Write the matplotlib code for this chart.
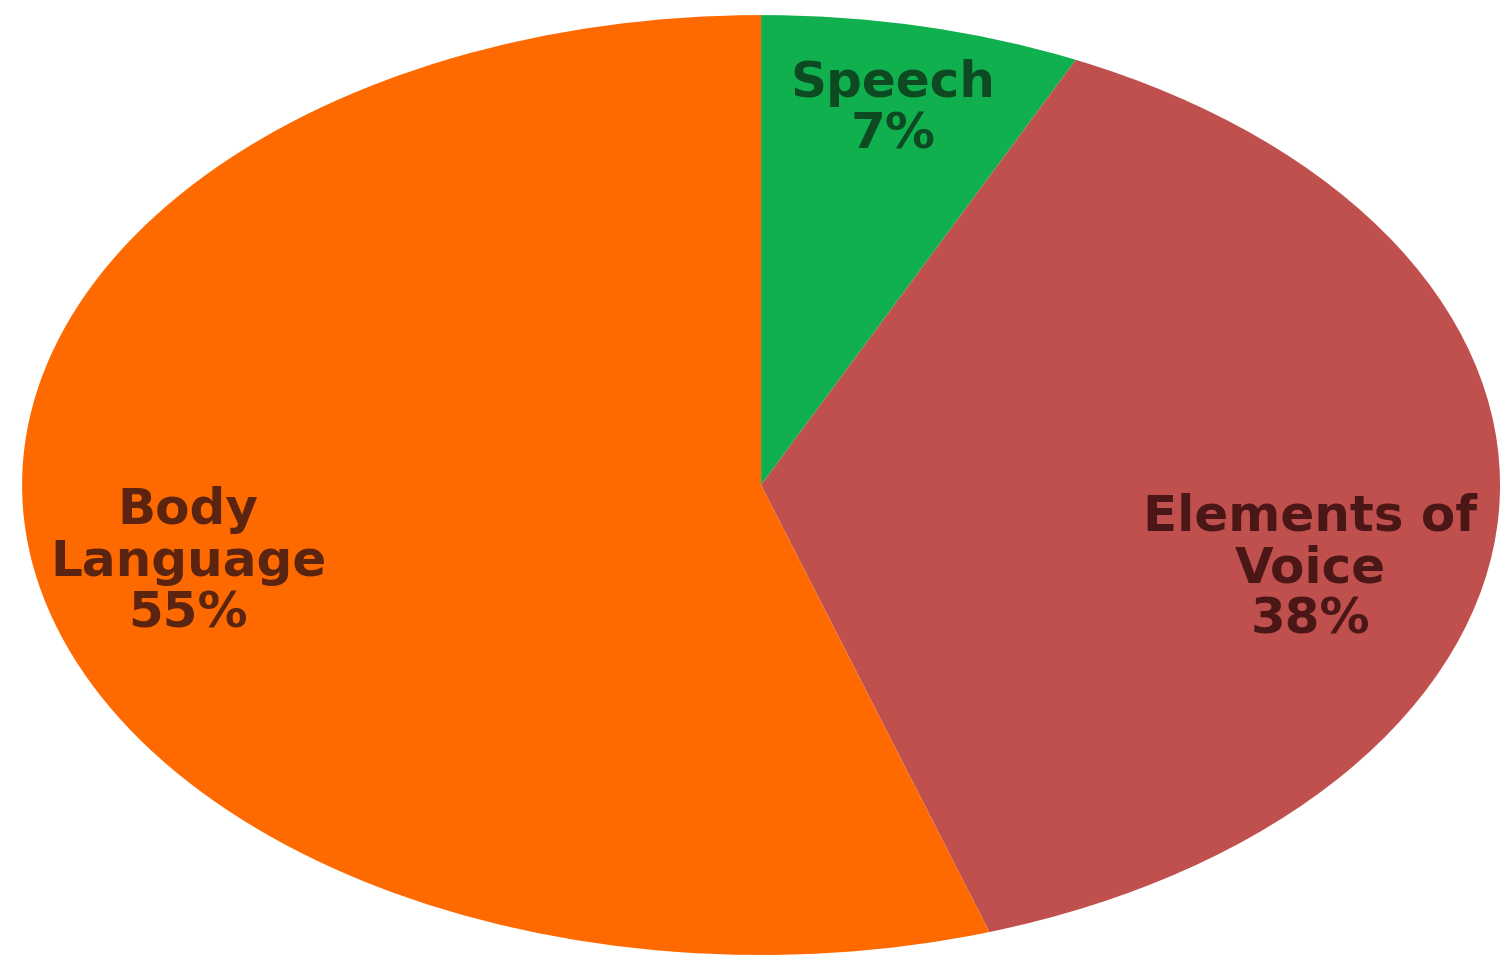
import matplotlib.pyplot as plt
import numpy as np

labels = ['Speech', 'Elements of\nVoice', 'Body\nLanguage']
shares = [7, 38, 55]
colors = ['#10b04e', '#c0504d', '#ff6a00']
text_colors = ['#0d4a22', '#4a1616', '#5a2410']
label_radius = [0.82, 0.745, 0.785]
label_drop = [0.0, -0.13, -0.04]


def main():
    fig = plt.figure(figsize=(15.12, 9.67), dpi=100)
    ax = fig.add_axes([0.0146, 0.0124, 0.9775, 0.972])

    wedges, _ = ax.pie(shares, colors=colors, startangle=90,
                       counterclock=False, radius=1.0,
                       wedgeprops=dict(linewidth=0))
    ax.set_aspect('auto')
    ax.set_xlim(-1, 1)
    ax.set_ylim(-1, 1)
    ax.axis('off')

    for w, lab, val, r, dy, tc in zip(wedges, labels, shares, label_radius,
                                      label_drop, text_colors):
        ang = np.deg2rad((w.theta1 + w.theta2) / 2)
        ax.text(r * np.cos(ang), r * np.sin(ang) + dy, f"{lab}\n{val}%",
                ha='center', va='center', fontsize=36, fontweight='bold',
                family='DejaVu Sans', color=tc, linespacing=1.1)

    fig.savefig('out.png', dpi=100)


main()
